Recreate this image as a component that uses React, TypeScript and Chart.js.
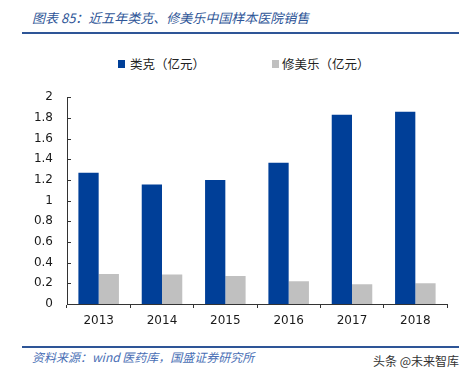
import React, { useEffect, useRef } from "react";
import { Chart, registerables } from "chart.js";

Chart.register(...registerables);

const years = ["2013", "2014", "2015", "2016", "2017", "2018"];
const remicade = [1.27, 1.155, 1.2, 1.365, 1.83, 1.86];
const humira = [0.29, 0.285, 0.27, 0.22, 0.19, 0.2];
const yTicks = [0, 0.2, 0.4, 0.6, 0.8, 1, 1.2, 1.4, 1.6, 1.8, 2];
const seriesNames = ["类克（亿元）", "修美乐（亿元）"];
const seriesColors = ["#003F98", "#C0C0C0"];

const TITLE = "图表 85：近五年类克、修美乐中国样本医院销售";
const SOURCE = "资料来源：wind 医药库，国盛证券研究所";
const WATERMARK = "头条 @未来智库";

const insideTicks = {
  id: "insideTicks",
  afterDraw(chart: any) {
    const ys = chart.scales.y;
    const ctx = chart.ctx;
    const left = chart.chartArea.left;
    ctx.save();
    ctx.strokeStyle = "#333";
    ctx.lineWidth = 1;
    yTicks.forEach((v) => {
      const py = Math.round(ys.getPixelForValue(v)) + 0.5;
      ctx.beginPath();
      ctx.moveTo(left, py);
      ctx.lineTo(left + 4, py);
      ctx.stroke();
    });
    ctx.restore();
  },
};

export default function App() {
  const ref = useRef<HTMLCanvasElement | null>(null);

  useEffect(() => {
    if (!ref.current) return;
    const chart = new Chart(ref.current, {
      type: "bar",
      data: {
        labels: years,
        datasets: [
          {
            label: seriesNames[0],
            data: remicade,
            backgroundColor: seriesColors[0],
            categoryPercentage: 0.64,
            barPercentage: 1,
          },
          {
            label: seriesNames[1],
            data: humira,
            backgroundColor: seriesColors[1],
            categoryPercentage: 0.64,
            barPercentage: 1,
          },
        ],
      },
      options: {
        animation: false,
        responsive: false,
        maintainAspectRatio: false,
        layout: { padding: { top: 0, right: 23, left: 0, bottom: 0 } },
        plugins: {
          legend: { display: false },
          tooltip: { enabled: false },
        },
        scales: {
          x: {
            afterFit: (s: any) => {
              s.height = 32;
            },
            grid: {
              offset: true,
              drawOnChartArea: false,
              drawTicks: true,
              tickLength: 4,
              color: "#333",
            },
            border: { display: true, color: "#333", width: 1 },
            ticks: {
              color: "#1a1a1a",
              padding: 6,
              font: { family: "DejaVu Sans", size: 12 },
            },
          },
          y: {
            min: 0,
            max: 2,
            afterFit: (s: any) => {
              s.width = 67;
            },
            afterBuildTicks: (s: any) => {
              s.ticks = yTicks.map((v) => ({ value: v }));
            },
            grid: { display: false, drawTicks: false },
            border: { display: true, color: "#333", width: 1 },
            ticks: {
              color: "#1a1a1a",
              padding: 14,
              font: { family: "DejaVu Sans", size: 12 },
              callback: (v: any) => String(Math.round(Number(v) * 10) / 10),
            },
          },
        },
      },
      plugins: [insideTicks],
    });
    return () => chart.destroy();
  }, []);

  const cjk = '"Noto Sans CJK SC", "Noto Sans", sans-serif';

  return (
    <div
      style={{
        position: "absolute",
        left: 0,
        top: 0,
        width: 470,
        height: 377,
        background: "#fff",
        overflow: "hidden",
        fontFamily: cjk,
      }}
    >
      <div
        style={{
          position: "absolute",
          left: 32,
          top: 9,
          fontSize: 13,
          lineHeight: "18px",
          fontStyle: "italic",
          color: "#2E5597",
          whiteSpace: "nowrap",
        }}
      >
        {TITLE}
      </div>
      <div
        style={{
          position: "absolute",
          left: 22,
          top: 32,
          width: 437,
          height: 2,
          background: "#2E5597",
        }}
      />
      <div
        style={{
          position: "absolute",
          left: 118,
          top: 55,
          display: "flex",
          alignItems: "center",
          fontSize: 12.5,
          lineHeight: "18px",
          color: "#222",
          whiteSpace: "nowrap",
        }}
      >
        <span style={{ display: "inline-block", width: 7, height: 8, background: seriesColors[0], marginRight: 5 }} />
        <span>{seriesNames[0]}</span>
      </div>
      <div
        style={{
          position: "absolute",
          left: 272,
          top: 55,
          display: "flex",
          alignItems: "center",
          fontSize: 12.5,
          lineHeight: "18px",
          color: "#222",
          whiteSpace: "nowrap",
        }}
      >
        <span style={{ display: "inline-block", width: 7, height: 8, background: seriesColors[1], marginRight: 3 }} />
        <span>{seriesNames[1]}</span>
      </div>
      <canvas
        ref={ref}
        width={470}
        height={260}
        style={{ position: "absolute", left: 0, top: 76, width: 470, height: 260 }}
      />
      <div
        style={{
          position: "absolute",
          left: 22,
          top: 346,
          width: 437,
          height: 2,
          background: "#2E5597",
        }}
      />
      <div
        style={{
          position: "absolute",
          left: 32,
          top: 348,
          fontSize: 12,
          lineHeight: "18px",
          fontStyle: "italic",
          color: "#4A6FB5",
          whiteSpace: "nowrap",
        }}
      >
        {SOURCE}
      </div>
      <div
        style={{
          position: "absolute",
          left: 373,
          top: 352,
          fontSize: 12,
          lineHeight: "18px",
          color: "#333",
          whiteSpace: "nowrap",
        }}
      >
        {WATERMARK}
      </div>
    </div>
  );
}
